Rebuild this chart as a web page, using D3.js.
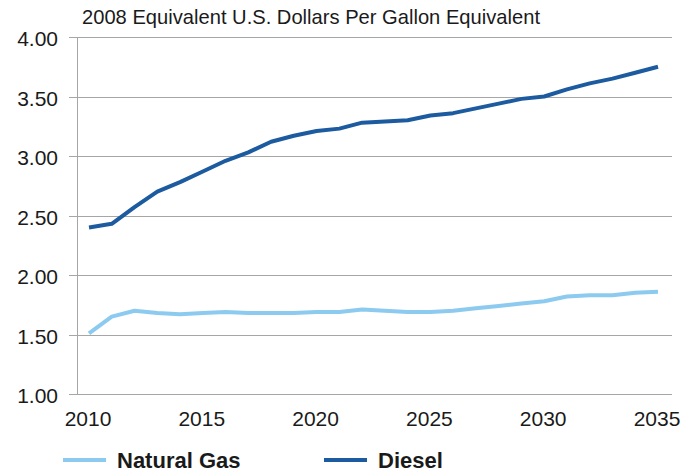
<!DOCTYPE html>
<html>
<head>
<meta charset="utf-8">
<script src="https://cdn.jsdelivr.net/npm/d3@7"></script>
<style>
  body { margin: 0; background: #fff; }
  svg text { font-family: "Liberation Sans", Arial, sans-serif; fill: #1a1a1a; }
</style>
</head>
<body>
<div id="chart"></div>
<script>
const years = d3.range(2010, 2036);
const dieselPrices = [2.40, 2.43, 2.57, 2.70, 2.78, 2.87, 2.96, 3.03, 3.12, 3.17, 3.21, 3.23, 3.28,
  3.29, 3.30, 3.34, 3.36, 3.40, 3.44, 3.48, 3.50, 3.56, 3.61, 3.65, 3.70, 3.75];
const gasPrices = [1.51, 1.65, 1.70, 1.68, 1.67, 1.68, 1.69, 1.68, 1.68, 1.68, 1.69, 1.69, 1.71,
  1.70, 1.69, 1.69, 1.70, 1.72, 1.74, 1.76, 1.78, 1.82, 1.83, 1.83, 1.85, 1.86];
const yTicks = [1.0, 1.5, 2.0, 2.5, 3.0, 3.5, 4.0];
const xTicks = [2010, 2015, 2020, 2025, 2030, 2035];

const width = 686, height = 472;
const plot = { left: 77, right: 672, top: 37, bottom: 394 };

const svg = d3.select('#chart').append('svg')
  .attr('width', width)
  .attr('height', height);

const x = d3.scaleLinear().domain([2010, 2035]).range([89, 658]);
const y = d3.scaleLinear().domain([1, 4]).range([plot.bottom, plot.top]);

// title (narrow font in the original, so squeeze it)
svg.append('text')
  .attr('x', 82).attr('y', 24)
  .attr('textLength', 458)
  .attr('lengthAdjust', 'spacingAndGlyphs')
  .style('font-size', '21px')
  .text('2008 Equivalent U.S. Dollars Per Gallon Equivalent');

// gridlines
svg.append('g')
  .selectAll('line')
  .data(yTicks)
  .join('line')
  .attr('x1', plot.left - 8)
  .attr('x2', plot.right)
  .attr('y1', d => Math.round(y(d)) + 0.5)
  .attr('y2', d => Math.round(y(d)) + 0.5)
  .attr('stroke', '#a6a6a6')
  .attr('stroke-width', 1);

// y axis line
svg.append('line')
  .attr('x1', plot.left + 0.5).attr('x2', plot.left + 0.5)
  .attr('y1', plot.top).attr('y2', plot.bottom)
  .attr('stroke', '#a6a6a6');

// y labels
svg.append('g')
  .selectAll('text')
  .data(yTicks)
  .join('text')
  .attr('x', 58)
  .attr('y', d => y(d) + 9)
  .attr('text-anchor', 'end')
  .style('font-size', '21px')
  .text(d => d3.format('.2f')(d));

// x labels
svg.append('g')
  .selectAll('text')
  .data(xTicks)
  .join('text')
  .attr('x', d => x(d) - 1)
  .attr('y', 426)
  .attr('text-anchor', 'middle')
  .style('font-size', '21px')
  .text(d => d);

const line = d3.line()
  .x((d, i) => x(years[i]))
  .y(d => y(d));

const series = [
  { name: 'Natural Gas', values: gasPrices, color: '#8ccbef' },
  { name: 'Diesel', values: dieselPrices, color: '#1c5b9f' }
];

svg.append('g')
  .selectAll('path')
  .data(series)
  .join('path')
  .attr('d', d => line(d.values))
  .attr('fill', 'none')
  .attr('stroke', d => d.color)
  .attr('stroke-width', 4)
  .attr('stroke-linejoin', 'round');

// legend
const legend = svg.append('g')
  .selectAll('g')
  .data(series)
  .join('g')
  .attr('transform', (d, i) => `translate(${i === 0 ? 63 : 324},460)`);

legend.append('line')
  .attr('x1', 0).attr('x2', 43)
  .attr('stroke', d => d.color)
  .attr('stroke-width', 4);

legend.append('text')
  .attr('x', 54).attr('y', 8)
  .style('font-size', '22px')
  .style('font-weight', 'bold')
  .text(d => d.name);
</script>
</body>
</html>
